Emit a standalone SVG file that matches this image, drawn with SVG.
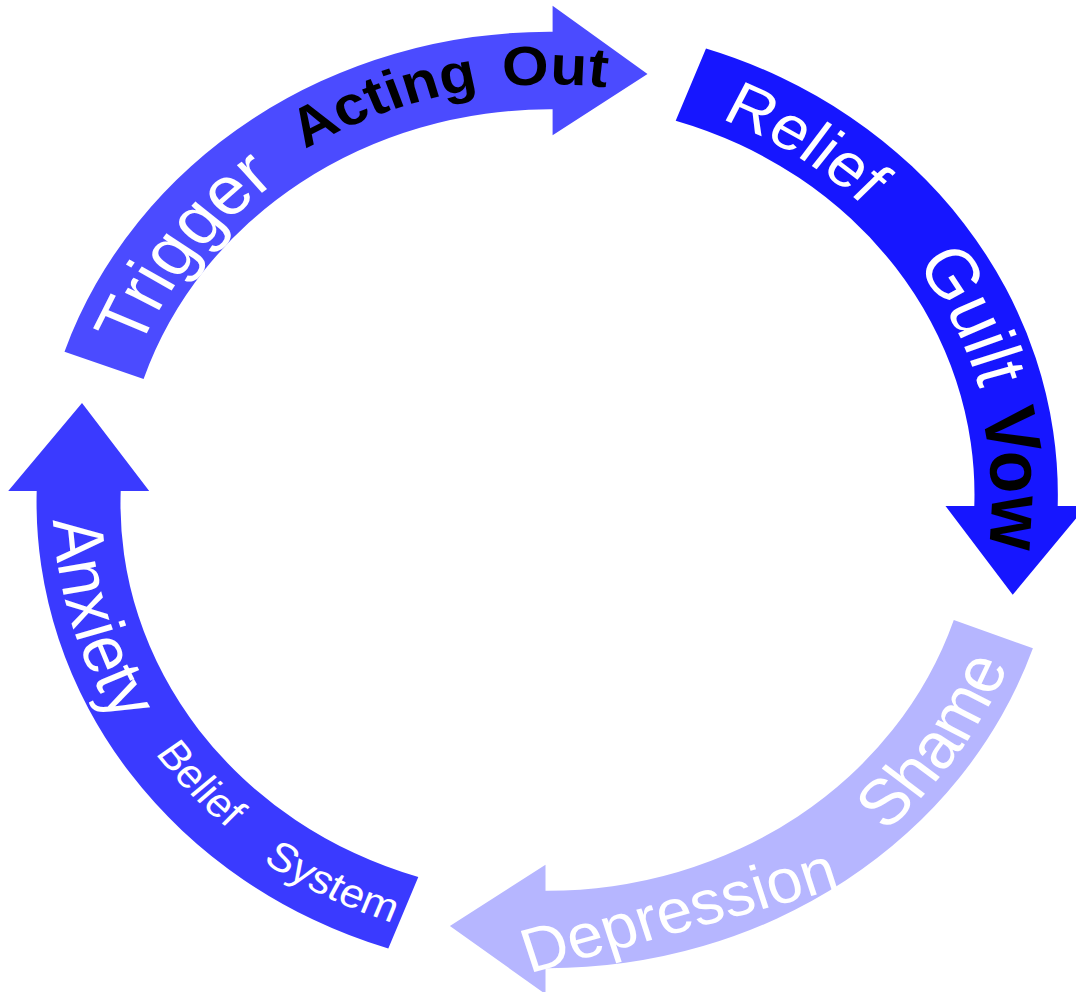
<svg xmlns="http://www.w3.org/2000/svg" width="1076" height="992" viewBox="0 0 1076 992">
<style>
.lbl{font-family:"Liberation Sans",Arial,Helvetica,sans-serif;fill:#ffffff;text-anchor:middle;}
.bk{font-weight:bold;fill:#000000;}
</style>
<defs>
<path id="pTrigger" d="M118.78,598.98 A440,440 0 0 1 524.47,60.6"/>
<path id="pActing" d="M115.46,364.38 A455,455 0 0 1 883.0,192.6"/>
<path id="pRelief" d="M346.71,97.28 A450,450 0 0 1 996.66,527.47"/>
<path id="pGuilt" d="M583.7,51.4 A450,450 0 0 1 916.1,756.1"/>
<path id="pVow" d="M750.09,104.91 A444,444 0 0 1 788.34,873"/>
<path id="pShame" d="M511.68,993.7 A495,495 0 0 0 992.98,284.17"/>
<path id="pDepression" d="M247.6,1100.8 L1109.7,842.2"/>
<path id="pAnxiety" d="M190.7,157.6 A493,493 0 0 0 427.5,978.2"/>
<path id="pBelief" d="M91.9,349.2 A480,480 0 0 0 645.2,970.0"/>
<path id="pSystem" d="M62.0,522.9 A486,486 0 0 0 810.7,908.7"/>
</defs>
<g transform="matrix(1,0,0,0.9173,0,41.35)">
<g id="arrow-top">
<path fill="#4b4bff" d="M64.5,338.3 A512,512 0 0 1 552.6,-10.5 L552.6,-38.7 L647.5,35.6 L552.6,102.3 L552.6,74.1 A427,427 0 0 0 143.6,368.1 Z"/>
<text class="lbl" font-size="74"><textPath href="#pTrigger" startOffset="50%">Trigger</textPath></text>
<text class="lbl bk" font-size="60" word-spacing="8"><textPath href="#pActing" startOffset="50%">Acting Out</textPath></text>
</g>
<g id="arrow-right">
<path fill="#1616ff" d="M706,7.8 A512,512 0 0 1 1057.7,506.5 L1086.5,506.5 L1012.7,603.3 L945.5,506.5 L974.3,506.5 A427,427 0 0 0 675.7,86.5 Z"/>
<text class="lbl" font-size="67"><textPath href="#pRelief" startOffset="50%">Relief</textPath></text>
<text class="lbl" font-size="74"><textPath href="#pGuilt" startOffset="50%">Guilt</textPath></text>
<text class="lbl bk" font-size="76"><textPath href="#pVow" startOffset="50%">Vow</textPath></text>
</g>
<g id="arrow-bottom">
<path fill="#b6b6ff" d="M1032.9,661.7 A512,512 0 0 1 545.5,1010.5 L545.5,1038.7 L449.9,964.4 L545.5,897.7 L545.5,925.9 A427,427 0 0 0 953.8,630.8 Z"/>
<text class="lbl" font-size="70"><textPath href="#pShame" startOffset="50%">Shame</textPath></text>
<text class="lbl" font-size="68"><textPath href="#pDepression" startOffset="457" textLength="326" lengthAdjust="spacingAndGlyphs">Depression</textPath></text>
</g>
<g id="arrow-left">
<path fill="#3a3aff" d="M388.3,989 A512,512 0 0 1 36.7,490.3 L8.2,490.3 L82,394.3 L149.2,490.3 L120.7,490.3 A427,427 0 0 0 418.3,911 Z"/>
<text class="lbl" font-size="71"><textPath href="#pAnxiety" startOffset="50%">Anxiety</textPath></text>
<text class="lbl" font-size="44"><textPath href="#pBelief" startOffset="50%">Belief</textPath></text>
<text class="lbl" font-size="44"><textPath href="#pSystem" startOffset="50%">System</textPath></text>
</g>
</g>
</svg>
